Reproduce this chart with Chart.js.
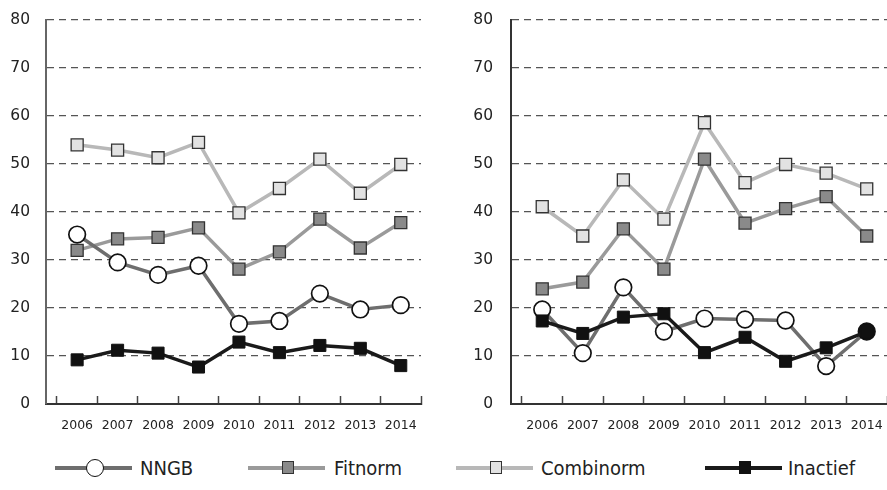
<!DOCTYPE html>
<html><head><meta charset="utf-8">
<script src="https://cdn.jsdelivr.net/npm/chart.js@4"></script>
<style>
html,body{margin:0;padding:0;background:#fff;}
#wrap{position:relative;width:887px;height:490px;overflow:hidden;background:#fff;}
#c1{position:absolute;left:0;top:0;}
#c2{position:absolute;left:440px;top:0;}
.leg{position:absolute;top:455px;height:26px;width:200px;}
.leg .ln{position:absolute;left:0;top:11px;width:77px;height:4px;}
.leg .mk{position:absolute;box-sizing:border-box;}
.leg .tx{position:absolute;top:0;font-family:"DejaVu Sans Condensed","DejaVu Sans",sans-serif;font-size:20px;color:#222;white-space:nowrap;line-height:26px;}
</style></head>
<body>
<div id="wrap">
  <canvas id="c1" width="440" height="440"></canvas>
  <canvas id="c2" width="457" height="440"></canvas>
  <div class="leg" style="left:55px">
    <div class="ln" style="background:#6e6e6e"></div>
    <div class="mk" style="left:31px;top:4px;width:18px;height:18px;border-radius:50%;background:#fff;border:1.6px solid #111"></div>
    <div class="tx" style="left:85px">NNGB</div>
  </div>
  <div class="leg" style="left:248px">
    <div class="ln" style="background:#9a9a9a"></div>
    <div class="mk" style="left:34px;top:6px;width:12px;height:13px;background:#8a8a8a;border:1.4px solid #333"></div>
    <div class="tx" style="left:86px">Fitnorm</div>
  </div>
  <div class="leg" style="left:456px">
    <div class="ln" style="background:#b8b8b8"></div>
    <div class="mk" style="left:34px;top:6px;width:12px;height:13px;background:#e2e2e2;border:1.4px solid #333"></div>
    <div class="tx" style="left:85px">Combinorm</div>
  </div>
  <div class="leg" style="left:705px">
    <div class="ln" style="background:#1a1a1a"></div>
    <div class="mk" style="left:34px;top:6px;width:12px;height:13px;background:#111;border:1.4px solid #111"></div>
    <div class="tx" style="left:83px">Inactief</div>
  </div>
</div>
<script>
const years = ['2006','2007','2008','2009','2010','2011','2012','2013','2014'];
const yMin = 0, yMax = 80, yStep = 10;

const leftNNGB      = [35.3, 29.5, 26.9, 28.8, 16.7, 17.3, 23.0, 19.7, 20.6];
const leftFitnorm   = [32.0, 34.4, 34.7, 36.7, 28.1, 31.7, 38.5, 32.5, 37.8];
const leftCombinorm = [54.0, 52.9, 51.3, 54.5, 39.8, 44.9, 51.0, 43.9, 49.9];
const leftInactief  = [9.2, 11.2, 10.6, 7.7, 12.9, 10.7, 12.2, 11.6, 8.0];

const rightNNGB      = [19.7, 10.6, 24.3, 15.1, 17.8, 17.6, 17.4, 7.9, 15.1];
const rightFitnorm   = [24.0, 25.4, 36.5, 28.1, 51.0, 37.7, 40.7, 43.2, 35.0];
const rightCombinorm = [41.1, 35.0, 46.7, 38.5, 58.6, 46.1, 49.9, 48.1, 44.8];
const rightInactief  = [17.3, 14.7, 18.1, 18.8, 10.7, 13.9, 8.9, 11.7, 15.1];

Chart.defaults.font.family = 'DejaVu Sans';
Chart.defaults.color = '#222';

function makeChart(id, nngb, fit, comb, inact, opt) {
  const first = +years[0], last = +years[years.length - 1];
  return new Chart(document.getElementById(id), {
    type: 'line',
    data: {
      labels: years,
      datasets: [
        { label: 'Inactief', data: inact, order: 0, borderColor: '#1a1a1a', borderWidth: 3.5,
          pointStyle: 'rect', pointRadius: 8.5, pointBackgroundColor: '#111', pointBorderColor: '#111', pointBorderWidth: 1 },
        { label: 'NNGB', data: nngb, order: 1, borderColor: '#6e6e6e', borderWidth: 3.5,
          pointStyle: 'circle', pointRadius: 8.3, pointBackgroundColor: opt.nngbFill || '#fff', pointBorderColor: '#111', pointBorderWidth: 1.7 },
        { label: 'Fitnorm', data: fit, order: 2, borderColor: '#9a9a9a', borderWidth: 3.5,
          pointStyle: 'rect', pointRadius: 8.5, pointBackgroundColor: '#8a8a8a', pointBorderColor: '#333', pointBorderWidth: 1.3 },
        { label: 'Combinorm', data: comb, order: 3, borderColor: '#b8b8b8', borderWidth: 3.5,
          pointStyle: 'rect', pointRadius: 8.5, pointBackgroundColor: '#e2e2e2', pointBorderColor: '#333', pointBorderWidth: 1.3 }
      ]
    },
    options: {
      responsive: false,
      animation: false,
      events: [],
      devicePixelRatio: 1,
      layout: { padding: { top: opt.top, right: opt.right, left: 0, bottom: 0 } },
      plugins: { legend: { display: false }, tooltip: { enabled: false } },
      elements: { line: { tension: 0 } },
      scales: {
        x: {
          type: 'linear',
          min: first - 0.77,
          max: last + 0.5,
          afterBuildTicks: s => {
            const t = [];
            years.forEach(y => { t.push({ value: +y - 0.5 }); t.push({ value: +y }); });
            t.push({ value: last + 0.5 });
            s.ticks = t;
          },
          afterFit: s => { s.height = 36; s.paddingLeft = 0; s.paddingRight = 0; },
          ticks: {
            autoSkip: false, maxRotation: 0, minRotation: 0, padding: 22,
            font: { size: 12.5 }, color: '#222',
            callback: v => Number.isInteger(v) ? String(v) : ''
          },
          grid: {
            drawOnChartArea: false, drawTicks: true, tickLength: -8, tickWidth: 1.5,
            tickColor: c => (c.tick && Number.isInteger(c.tick.value)) ? 'rgba(0,0,0,0)' : '#444'
          },
          border: { display: true, color: '#333', width: 2 }
        },
        y: {
          min: yMin, max: yMax,
          afterFit: s => { s.width = opt.yWidth; s.paddingTop = 0; s.paddingBottom = 0; },
          ticks: { stepSize: yStep, padding: opt.yPad, font: { size: 15.5 }, color: '#222' },
          grid: {
            drawTicks: false, lineWidth: 1.2,
            color: c => (c.tick && c.tick.value === 0) ? 'rgba(0,0,0,0)' : '#555'
          },
          border: { display: true, color: opt.yAxisColor, width: 2, dash: [7, 5] }
        }
      }
    }
  });
}

makeChart('c1', leftNNGB, leftFitnorm, leftCombinorm, leftInactief,
  { top: 20, right: 19, yWidth: 46, yPad: 16, yAxisColor: '#666' });
makeChart('c2', rightNNGB, rightFitnorm, rightCombinorm, rightInactief,
  { top: 20, right: 10, yWidth: 71, yPad: 18, yAxisColor: '#333',
    nngbFill: ['#fff','#fff','#fff','#fff','#fff','#fff','#fff','#fff','#111'] });
</script>
</body></html>
